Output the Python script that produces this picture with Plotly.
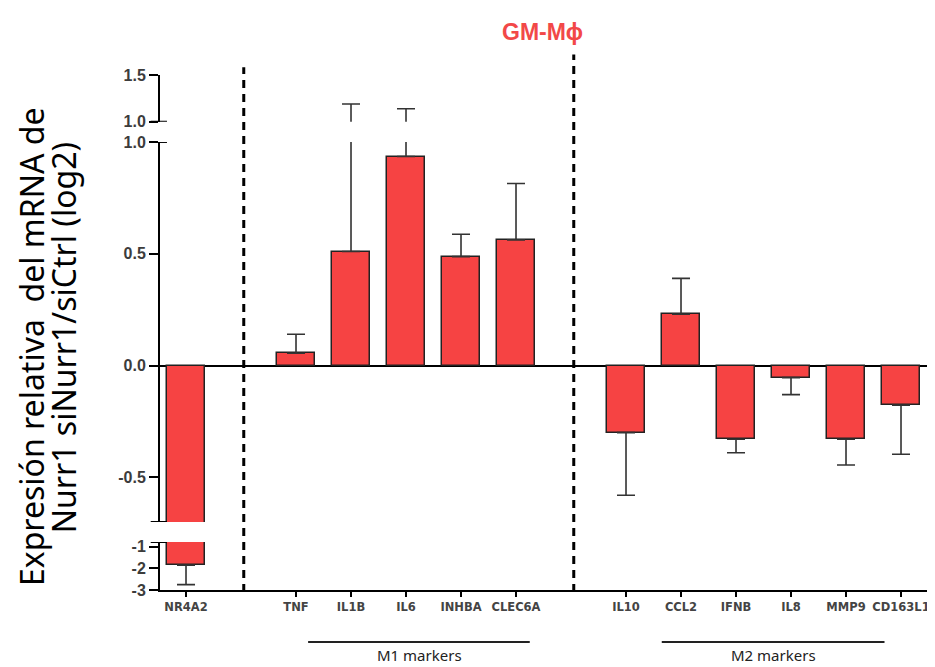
import plotly.graph_objects as go

# ---------------- data ----------------
group_nr4a2 = ["NR4A2"]
group_m1 = ["TNF", "IL1B", "IL6", "INHBA", "CLEC6A"]
group_m2 = ["IL10", "CCL2", "IFNB", "IL8", "MMP9", "CD163L1"]

values_nr4a2 = [-1.85]
values_m1 = [0.055, 0.51, 0.935, 0.487, 0.562]
values_m2 = [-0.30, 0.23, -0.33, -0.054, -0.33, -0.177]

sem_nr4a2 = [0.90]
sem_m1 = [0.085, 0.68, 0.205, 0.10, 0.252]
sem_m2 = [0.28, 0.16, 0.06, 0.076, 0.115, 0.22]

ytick_top = [1.0, 1.5]
ytick_mid = [1.0, 0.5, 0.0, -0.5]
ytick_bot = [-1, -2, -3]

# ---------------- build ----------------
groups = [group_nr4a2, group_m1, group_m2]
vals_g = [values_nr4a2, values_m1, values_m2]
sems_g = [sem_nr4a2, sem_m1, sem_m2]

cats, xs, vals, sems, gap_pos, group_span = [], [], [], [], [], []
pos = 0
for gi, (g, v, s) in enumerate(zip(groups, vals_g, sems_g)):
    if gi > 0:
        gap_pos.append(pos)
        pos += 1
    start = pos
    for c, vv, ss in zip(g, v, s):
        cats.append(c); xs.append(pos); vals.append(vv); sems.append(ss)
        pos += 1
    group_span.append((start, pos - 1))

err_up = [s if v >= 0 else 0 for v, s in zip(vals, sems)]
err_dn = [0 if v >= 0 else s for v, s in zip(vals, sems)]

BAR = "#f64343"
fig = go.Figure()
for ya in ["y", "y2", "y3"]:
    fig.add_trace(go.Bar(
        x=xs, y=vals, yaxis=ya, width=0.68,
        marker=dict(color=BAR, line=dict(color="#222222", width=1.5)),
        error_y=dict(type="data", symmetric=False, array=err_up, arrayminus=err_dn,
                     color="#333333", thickness=1.6, width=9),
        showlegend=False, hoverinfo="skip",
    ))

tickfont_y = dict(family="Liberation Sans, Arial", size=16, color="#3c3c3c", weight="bold")
common_y = dict(showline=True, linecolor="black", linewidth=2, ticks="outside",
                ticklen=9, tickwidth=2, tickcolor="black", showgrid=False,
                tickfont=tickfont_y, anchor="x", fixedrange=True)

fig.update_layout(
    width=935, height=667,
    margin=dict(l=152, r=8, t=67, b=85),
    paper_bgcolor="white", plot_bgcolor="white",
    bargap=0,
    xaxis=dict(range=[-0.473, 13.618], anchor="y3", showline=True, linecolor="black",
               linewidth=1.5, ticks="outside", ticklen=5, tickwidth=1.5, tickcolor="black",
               tickvals=xs, ticktext=cats, showgrid=False, zeroline=False,
               tickfont=dict(family="DejaVu Sans", size=11.5, color="#444444", weight="bold")),
    yaxis=dict(domain=[0.132, 0.870], range=[-0.70, 1.0], tickvals=ytick_mid,
               ticktext=[f"{t:.1f}" for t in ytick_mid], zeroline=True,
               zerolinecolor="black", zerolinewidth=1.5, **common_y),
    yaxis2=dict(domain=[0.909, 1.0], range=[1.0, 1.5], tickvals=ytick_top,
                ticktext=[f"{t:.1f}" for t in ytick_top], zeroline=False, **common_y),
    yaxis3=dict(domain=[0.0, 0.0932], range=[-3, -0.78], tickvals=ytick_bot,
                ticktext=[str(t) for t in ytick_bot], zeroline=False, **common_y),
)

shapes = []
# dashed separators
for gp, top in zip(gap_pos, [1.015, 1.04]):
    shapes.append(dict(type="line", xref="x", yref="paper", x0=gp + 0.05, x1=gp + 0.05,
                       y0=-0.004, y1=top, line=dict(color="black", width=3, dash="8px,6px")))
# axis-break marks
for yr, yv in [("y2", 1.0), ("y", 1.0), ("y", -0.70), ("y3", -0.78)]:
    shapes.append(dict(type="line", xref="paper", yref=yr, x0=-0.012, x1=0.009,
                       y0=yv, y1=yv, line=dict(color="black", width=2)))
# group lines
m1s, m1e = group_span[1]
m2s, m2e = group_span[2]
shapes.append(dict(type="line", xref="x", yref="paper", x0=m1s + 0.22, x1=m1e + 0.25,
                   y0=-0.101, y1=-0.101, line=dict(color="#222222", width=2)))
shapes.append(dict(type="line", xref="x", yref="paper", x0=m2s + 0.65, x1=m2e - 0.3,
                   y0=-0.101, y1=-0.101, line=dict(color="#222222", width=2)))
fig.update_layout(shapes=shapes)

ann_font = dict(family="Noto Sans", size=15, color="#222222")
fig.add_annotation(x=(m1s + m1e) / 2 + 0.24, y=-0.127, xref="x", yref="paper",
                   xanchor="center", yanchor="middle",
                   text="M1 markers", showarrow=False, font=ann_font)
fig.add_annotation(x=(m2s + m2e) / 2 + 0.18, y=-0.127, xref="x", yref="paper",
                   xanchor="center", yanchor="middle",
                   text="M2 markers", showarrow=False, font=ann_font)
fig.add_annotation(x=0.494, y=1.083, xref="paper", yref="paper", text="GM-Mϕ",
                   xanchor="center", yanchor="middle", showarrow=False,
                   font=dict(family="Liberation Sans, Arial", size=23, color="#f24848", weight="bold"))
title_font = dict(family="Noto Sans", size=32, color="black")
fig.add_annotation(x=-0.165, y=0.472, xref="paper", yref="paper",
                   xanchor="center", yanchor="middle",
                   text="Expresión relativa  del mRNA de", textangle=-90,
                   showarrow=False, font=title_font)
fig.add_annotation(x=-0.125, y=0.489, xref="paper", yref="paper",
                   xanchor="center", yanchor="middle",
                   text="Nurr1 siNurr1/siCtrl (log2)", textangle=-90,
                   showarrow=False, font=title_font)

fig.write_html("out.html")
